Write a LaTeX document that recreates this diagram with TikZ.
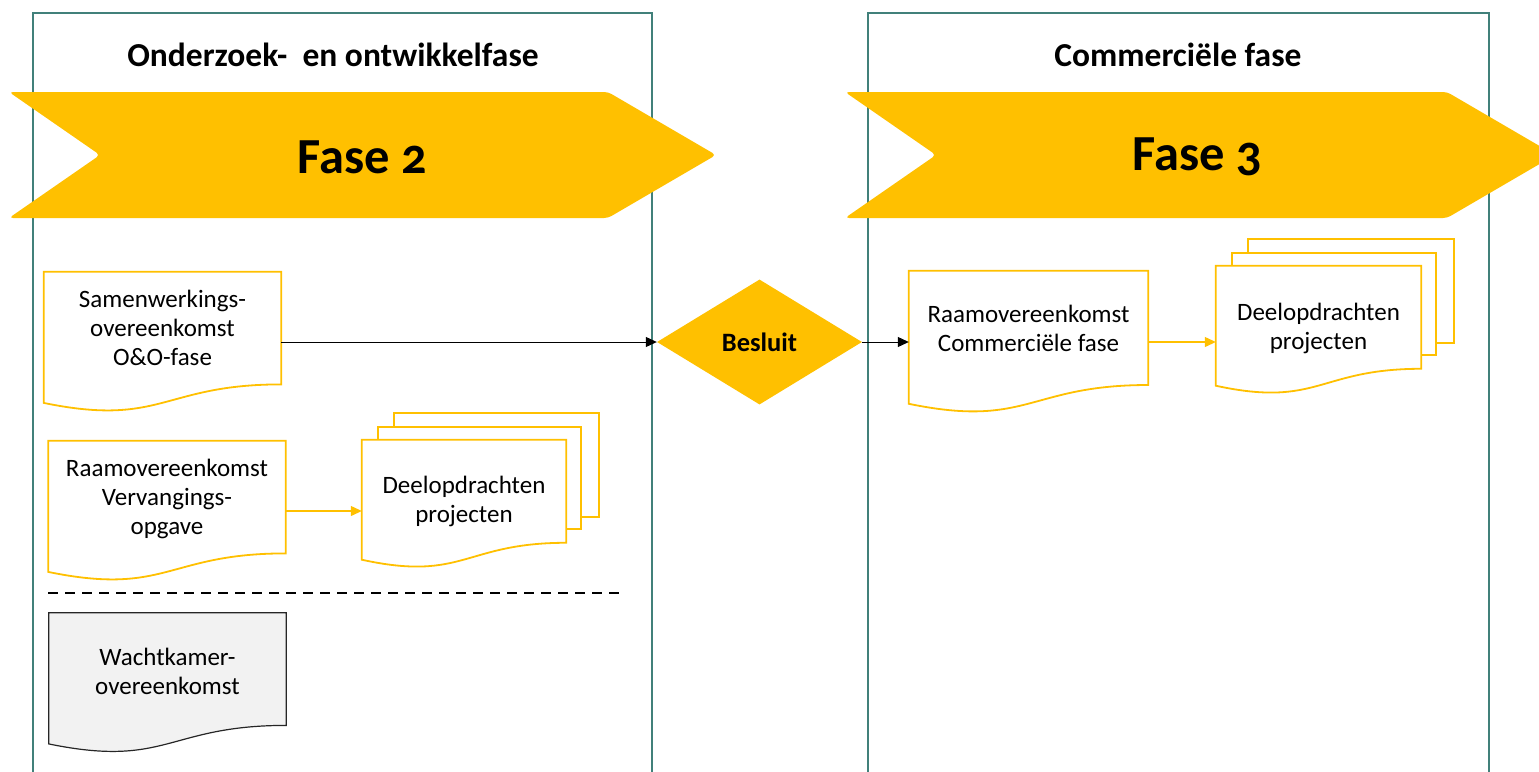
\documentclass[tikz,border=0pt]{standalone}
\usepackage{fontspec}
\setmainfont[Numbers=OldStyle]{Carlito}
\usetikzlibrary{arrows.meta, calc, positioning, shapes.geometric}

\definecolor{faseyellow}{HTML}{FFC000}
\definecolor{panelteal}{HTML}{41807A}
\definecolor{waitgray}{HTML}{F2F2F2}

% document outline with wavy bottom, drawn round a node
\newcommand{\docline}[2][]{%
  \draw[line width=1.8pt, draw=faseyellow, fill=white, #1] (#2.north west) -- (#2.north east)
    -- ($(#2.north east)!0.802!(#2.south east)$)
    .. controls ($(#2.north)!0.802!(#2.south)$) and ($(#2.north)!1.1075!(#2.south)$)
    .. ($(#2.north west)!0.934!(#2.south west)$) -- cycle;}

% the two pages behind a stacked document
\newcommand{\backpages}[1]{%
  \draw[line width=1.8pt, draw=faseyellow, fill=white]
    ($(#1.north west)+(32,-27)$) rectangle ($(#1.north east)+(33,77)$);
  \draw[line width=1.8pt, draw=faseyellow, fill=white]
    ($(#1.north west)+(16,-13)$) rectangle ($(#1.north east)+(15,89)$);}

\begin{document}
\begin{tikzpicture}[x=1pt, y=-1pt,
    doc/.style={minimum width=237pt, minimum height=140pt, inner sep=0pt},
    stackdoc/.style={minimum width=204pt, minimum height=128pt, inner sep=0pt},
    doctext/.style={align=center, inner sep=0pt, font=\fontsize{25}{29}\selectfont},
    title/.style={font=\bfseries\fontsize{33.5}{38}\selectfont},
    fase/.style={font=\bfseries\fontsize{50.5}{58}\selectfont},
    panel/.style={draw=panelteal, line width=1.5pt},
    chevron/.style={fill=faseyellow, rounded corners=4pt},
    blackarrow/.style={-{Triangle[length=11pt,width=10pt]}, line width=1pt},
    yellowarrow/.style={-{Triangle[length=11pt,width=10pt]}, line width=1.2pt, faseyellow}]

    \clip (0,0) rectangle (1539,771);

    % Draw the phase panels
    \draw[panel] (33,800) -- (33,13) -- (652,13) -- (652,800);
    \draw[panel] (868,800) -- (868,13) -- (1489,13) -- (1489,800);

    % Draw the chevrons
    \fill[chevron] (9,92) -- (608,92) -- (716,155) -- (608,218) -- (9,218) -- (100,155) -- cycle;
    \fill[chevron] (845,92) -- (1447,92) -- (1555,155) -- (1447,218) -- (845,218) -- (936,155) -- cycle;

    \node[title] (titel2) at (333,55) {Onderzoek- \ en ontwikkelfase};
    \node[title] (titel3) at (1178,55) {Commerciële fase};
    \node[fase]  (fase2)  at (362,157) {Fase 2};
    \node[fase]  (fase3)  at (1197,157) {Fase 3};

    % Place the documents
    \node[doc] (samen)   at (162.5,342) {};
    \node[doc] (vervang) at (167,511) {};
    \node[doc] (wacht)   at (167.5,683) {};
    \node[doc, minimum width=239pt, minimum height=142pt] (raam) at (1028.5,342) {};
    \node[stackdoc] (deel2) at (464,504) {};
    \node[stackdoc, minimum width=205pt] (deel3) at (1318.5,330) {};

    \backpages{deel2}
    \backpages{deel3}
    \docline{samen}
    \docline{vervang}
    \docline{raam}
    \docline{deel2}
    \docline{deel3}
    \docline[draw=black!85, line width=1.2pt, fill=waitgray]{wacht}

    \node[doctext] (samentxt)   at ($(samen)+(0,-14)$)   {Samenwerkings-\\overeenkomst\\O\&O-fase};
    \node[doctext] (vervangtxt) at ($(vervang)+(0,-12)$) {Raamovereenkomst\\Vervangings-\\opgave};
    \node[doctext] (wachttxt)   at ($(wacht)+(0,-12)$)   {Wachtkamer-\\overeenkomst};
    \node[doctext] (raamtxt)    at ($(raam)+(0,-14)$)    {Raamovereenkomst\\Commerciële fase};
    \node[doctext] (deel2txt)   at ($(deel2)+(0,-3)$)    {Deelopdrachten\\projecten};
    \node[doctext] (deel3txt)   at ($(deel3)+(0,-2)$)    {Deelopdrachten\\projecten};

    % Decision
    \node[diamond, fill=faseyellow, minimum width=205pt, minimum height=125pt, inner sep=0pt,
          aspect=1.64, font=\bfseries\fontsize{26.5}{30}\selectfont] (besluit) at (759.5,342) {Besluit};

    % Separator
    \draw[dash pattern=on 10pt off 7pt, line width=1.5pt] (48,593) -- (620,593);

    % Connect the documents
    \draw[blackarrow] (samen.east) -- (besluit.west);
    \draw[blackarrow] (besluit.east) -- (raam.west);
    \draw[yellowarrow] (vervang.east) -- (vervang.east -| deel2.west);
    \draw[yellowarrow] (raam.east) -- (raam.east -| deel3.west);
\end{tikzpicture}
\end{document}
